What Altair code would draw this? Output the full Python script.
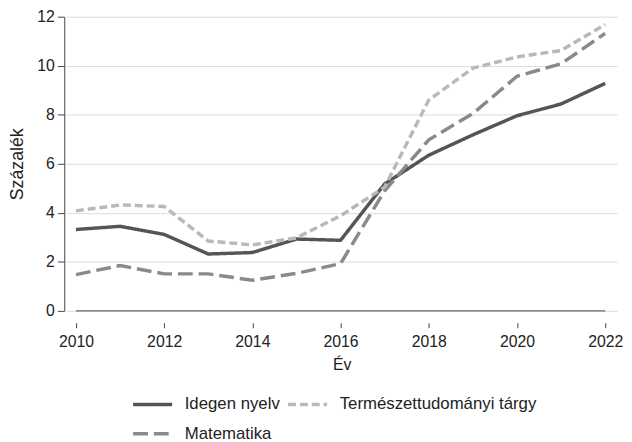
import altair as alt
import pandas as pd

years = list(range(2010, 2023))
idegen = [3.32, 3.45, 3.12, 2.32, 2.38, 2.93, 2.88, 5.18, 6.35, 7.18, 7.96, 8.44, 9.28]
matek = [1.48, 1.85, 1.51, 1.51, 1.25, 1.53, 1.93, 4.9, 6.98, 8.05, 9.57, 10.08, 11.32]
termesz = [4.08, 4.32, 4.26, 2.85, 2.69, 2.98, 3.88, 5.05, 8.6, 9.9, 10.36, 10.62, 11.68]

# legend order (column-major, 2 columns)
series_names = ["Idegen nyelv", "Matematika", "Természettudományi tárgy"]
series_colors = ["#555555", "#8a8a8a", "#b9b9b9"]
series_dash = [[1, 0], [15, 6], [8, 4]]
y_ticks = [0, 2, 4, 6, 8, 10, 12]
x_ticks = [2010, 2012, 2014, 2016, 2018, 2020, 2022]

keys = [f"k{i}" for i in range(len(series_names))]
rows = []
for name, vals in zip(series_names, [idegen, matek, termesz]):
    k = keys[series_names.index(name)]
    for yr, v in zip(years, vals):
        rows.append({"Év": yr, "Százalék": v, "Tárgy": name, "Kulcs": k})
df = pd.DataFrame(rows)

label_map = "{" + ", ".join(f"'{k}': '{n}'" for k, n in zip(keys, series_names)) + "}"

FONT = "Liberation Sans"

xscale = alt.Scale(domain=[years[0] - 0.22, years[-1] + 0.27], nice=False, zero=False)
yscale = alt.Scale(domain=[y_ticks[0], y_ticks[-1]], nice=False)

legend_kw = dict(title=None, orient="none", legendX=66, legendY=371,
                 labelExpr=f"{label_map}[datum.label]",
                 columns=2, symbolType="stroke", symbolSize=1560,
                 symbolStrokeWidth=3.5, labelFontSize=17, labelLimit=400,
                 labelOffset=11, rowPadding=-18.5, columnPadding=0,
                 labelColor="#222")

lines = alt.Chart(df).mark_line(strokeWidth=3.5).encode(
    x=alt.X("Év:Q", scale=xscale,
            axis=alt.Axis(values=x_ticks, format="d", domain=False, grid=False,
                          offset=12, tickSize=5, labelPadding=6, title="Év",
                          titlePadding=7, tickColor="#444", labelFontSize=16,
                          titleFontSize=16)),
    y=alt.Y("Százalék:Q", scale=yscale,
            axis=alt.Axis(values=y_ticks, offset=2, tickSize=7, labelPadding=3,
                          title="Százalék", titlePadding=11, grid=True,
                          gridColor="#dcdcdc", gridWidth=1, domainColor="#444",
                          tickColor="#444", labelFontSize=16, titleFontSize=18)),
    color=alt.Color("Kulcs:N", scale=alt.Scale(domain=keys, range=series_colors),
                    legend=alt.Legend(**legend_kw)),
    strokeDash=alt.StrokeDash("Kulcs:N", scale=alt.Scale(domain=keys, range=series_dash),
                              legend=alt.Legend(**legend_kw)),
    detail="Tárgy:N",
)

axis_line_df = pd.DataFrame({"x": [x_ticks[0]], "x2": [x_ticks[-1]]})
xaxis_line = alt.Chart(axis_line_df).mark_rule(color="#444", strokeWidth=1).encode(
    x=alt.X("x:Q", scale=xscale),
    x2="x2:Q",
    y=alt.value(298),
)

chart = alt.layer(lines, xaxis_line).properties(
    width=558, height=298,
    autosize=alt.AutoSizeParams(type="none"),
    padding={"left": 59, "top": 6, "right": 7, "bottom": 130},
    background="white",
).configure_view(stroke=None).configure_axis(
    labelFont=FONT, titleFont=FONT, labelColor="#222", titleColor="#222",
    titleFontWeight="normal"
).configure_legend(labelFont=FONT)

chart.save("out.html", embed_options={"renderer": "svg", "actions": False})
